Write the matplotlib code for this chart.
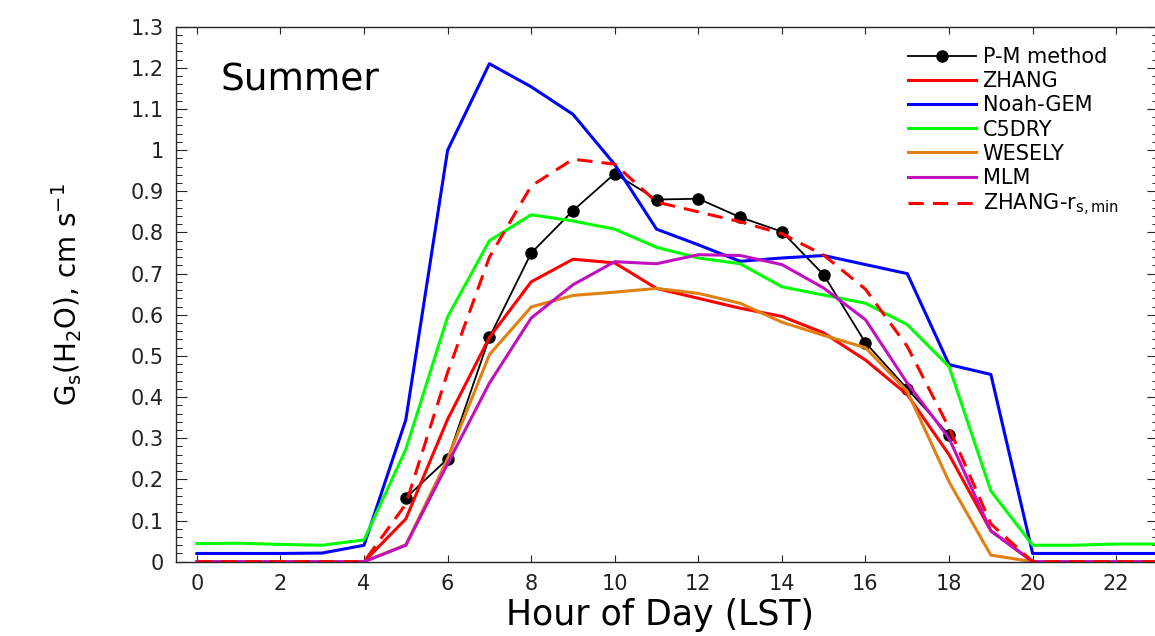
import matplotlib
matplotlib.use("Agg")
import matplotlib.pyplot as plt

plt.rcParams['font.family'] = ['DejaVu Sans']
plt.rcParams['mathtext.default'] = 'regular'

# hours of day (LST)
hours = list(range(24))
pm_hours = list(range(5, 19))

# P-M method, only daytime
pm_method = [0.155, 0.25, 0.545, 0.75, 0.853, 0.943, 0.88, 0.882, 0.837, 0.802,
             0.697, 0.532, 0.42, 0.308]

zhang = [0, 0, 0, 0, 0, 0.104, 0.346, 0.545, 0.68, 0.735, 0.726, 0.664,
         0.64, 0.616, 0.596, 0.556, 0.49, 0.406, 0.26, 0.075, 0, 0, 0, 0]
noah_gem = [0.02, 0.02, 0.02, 0.021, 0.04, 0.345, 1.0, 1.21, 1.154, 1.087, 0.965, 0.808,
            0.77, 0.73, 0.738, 0.744, 0.722, 0.70, 0.479, 0.455, 0.02, 0.02, 0.02, 0.02]
c5dry = [0.044, 0.045, 0.042, 0.04, 0.053, 0.273, 0.595, 0.78, 0.843, 0.828, 0.808, 0.764,
         0.738, 0.724, 0.668, 0.648, 0.628, 0.576, 0.474, 0.172, 0.04, 0.04, 0.043, 0.043]
wesely = [0, 0, 0, 0, 0, 0.041, 0.25, 0.503, 0.619, 0.647, 0.655, 0.664,
          0.652, 0.628, 0.582, 0.55, 0.52, 0.414, 0.194, 0.016, 0, 0, 0, 0]
mlm = [0, 0, 0, 0, 0, 0.04, 0.238, 0.434, 0.592, 0.673, 0.729, 0.724,
       0.746, 0.744, 0.722, 0.665, 0.588, 0.434, 0.30, 0.075, 0, 0, 0, 0]
zhang_rsmin = [0, 0, 0, 0, 0, 0.14, 0.46, 0.74, 0.913, 0.978, 0.966, 0.874,
               0.85, 0.826, 0.797, 0.745, 0.662, 0.523, 0.325, 0.092, 0, 0, 0, 0]

x_ticks = list(range(0, 23, 2))
y_ticks = [i / 10 for i in range(14)]
y_ticklabels = ['0', '0.1', '0.2', '0.3', '0.4', '0.5', '0.6', '0.7', '0.8',
                '0.9', '1', '1.1', '1.2', '1.3']
y_minor = [i / 50 for i in range(66)]

fig = plt.figure(figsize=(11.55, 6.36), dpi=100)
ax = fig.add_axes([176 / 1155, 74.3 / 636, 982 / 1155, 535 / 636])

ax.plot(pm_hours, pm_method, color='black', lw=1.3, marker='o', ms=8, label='P-M method')
ax.plot(hours, zhang, color='#ff0000', lw=2.2, label='ZHANG')
ax.plot(hours, noah_gem, color='#0000ff', lw=2.2, label='Noah-GEM')
ax.plot(hours, c5dry, color='#00ff00', lw=2.2, label='C5DRY')
ax.plot(hours, wesely, color='#e08010', lw=2.2, label='WESELY')
ax.plot(hours, mlm, color='#c010c0', lw=2.2, label='MLM')
ax.plot(hours, zhang_rsmin, color='#ff0000', lw=2.2, dashes=(5, 3),
        label='ZHANG-r$_{s,min}$')

ax.set_xlim(-0.5, 23)
ax.set_ylim(0, 1.3)
ax.set_xticks(x_ticks)
ax.set_yticks(y_ticks, y_ticklabels)
ax.set_yticks(y_minor, minor=True)

for s in ax.spines.values():
    s.set_color('#262626')
    s.set_linewidth(1.0)
ax.tick_params(axis='both', direction='in', colors='#262626', labelcolor='#222222',
               labelsize=15, top=True, right=True)
ax.tick_params(axis='x', length=5, pad=9)
ax.tick_params(axis='y', which='major', length=8, pad=9)
ax.tick_params(axis='y', which='minor', length=4.5, direction='in', right=True)

ax.set_xlabel('Hour of Day (LST)', fontsize=25)
ax.xaxis.set_label_coords(0.493, -0.068)
ax.set_ylabel('G$_s$(H$_2$O), cm s$^{-1}$', fontsize=20)
ax.yaxis.set_label_coords(-0.094, 0.5)

ax.text(0.045, 0.90, 'Summer', transform=ax.transAxes, fontsize=27,
        ha='left', va='center')

ax.legend(loc='upper left', bbox_to_anchor=(0.745, 0.962), frameon=False,
          fontsize=15, handlelength=3.3, handletextpad=0.3, labelspacing=0.2,
          borderaxespad=0, borderpad=0)

fig.savefig('out.png', dpi=100)
